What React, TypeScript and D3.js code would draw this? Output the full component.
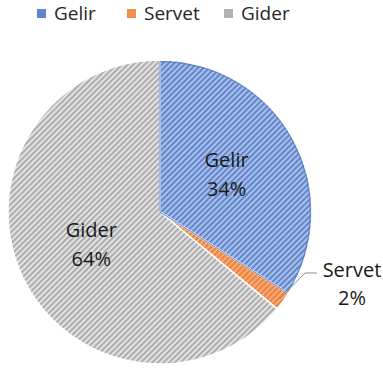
import React from "react";
import * as d3 from "d3";

const categories = ["Gelir", "Servet", "Gider"];
const values = [34, 2, 64];
const labels = ["34%", "2%", "64%"];

const W = 383, H = 371;
const cx = 160, cy = 212, R = 152;
const font = "'Open Sans', 'Noto Sans', sans-serif";
const fs = 20;

const patterns = [
  { id: "pBlue", bg: "#a9c1ea", fg: "#5b80c8", legend: "#4472c4" },
  { id: "pOrange", bg: "#f5ad7c", fg: "#ed7d31", legend: "#ed7d31" },
  { id: "pGray", bg: "#e2e2e2", fg: "#a8a8a8", legend: "#a5a5a5" },
];

export default function App() {
  const pie = d3.pie<number>().sort(null).value((d) => d)(values);
  const arc = d3.arc<d3.PieArcDatum<number>>().innerRadius(0).outerRadius(R);
  const labelArc = d3.arc<d3.PieArcDatum<number>>().innerRadius(R * 0.5).outerRadius(R * 0.5);
  const gelirC = labelArc.centroid(pie[0]);
  const giderC = labelArc.centroid(pie[2]);

  const servetMid = (pie[1].startAngle + pie[1].endAngle) / 2;
  const lx0 = Math.sin(servetMid) * (R - 4);
  const ly0 = -Math.cos(servetMid) * (R - 4);

  const legendItems = [
    { x: 37, text: categories[0], c: patterns[0] },
    { x: 127, text: categories[1], c: patterns[1] },
    { x: 224, text: categories[2], c: patterns[2] },
  ];

  return (
    <svg width={W} height={H} style={{ position: "absolute", left: 0, top: 0, background: "#fff" }}>
      <defs>
        {patterns.map((p) => (
          <pattern key={p.id} id={p.id} patternUnits="userSpaceOnUse" width={4} height={4} patternTransform="rotate(45)">
            <rect width={4} height={4} fill={p.bg} />
            <rect width={1.8} height={4} fill={p.fg} />
          </pattern>
        ))}
      </defs>
      {legendItems.map((l, i) => (
        <g key={i}>
          <rect x={l.x} y={9} width={9} height={9} fill={l.c.legend} opacity={0.85} />
          <text x={l.x + 17} y={20} fontFamily={font} fontSize={19} fill="#262626">{l.text}</text>
        </g>
      ))}
      <g transform={`translate(${cx},${cy})`}>
        {pie.map((d, i) => (
          <path key={i} d={arc(d) || ""} fill={`url(#${patterns[i].id})`} stroke="#fff" strokeWidth={1.5} />
        ))}
        <path d={arc(pie[0]) || ""} fill="none" stroke="#5b80c8" strokeWidth={1} transform="scale(0.99)" />
        <polyline
          points={`${lx0},${ly0} ${305 - cx},${273 - cy} ${317 - cx},${273 - cy}`}
          fill="none"
          stroke="#8c8c8c"
          strokeWidth={1}
        />
        <text textAnchor="middle" fontFamily={font} fontSize={fs} fill="#1a1a1a">
          <tspan x={gelirC[0]} y={gelirC[1] - 8}>{categories[0]}</tspan>
          <tspan x={gelirC[0]} dy={29}>{labels[0]}</tspan>
        </text>
        <text textAnchor="middle" fontFamily={font} fontSize={fs} fill="#1a1a1a">
          <tspan x={giderC[0]} y={giderC[1] - 7}>{categories[2]}</tspan>
          <tspan x={giderC[0]} dy={29}>{labels[2]}</tspan>
        </text>
        <text textAnchor="middle" fontFamily={font} fontSize={fs} fill="#1a1a1a">
          <tspan x={352 - cx} y={277 - cy}>{categories[1]}</tspan>
          <tspan x={352 - cx} dy={28}>{labels[1]}</tspan>
        </text>
      </g>
    </svg>
  );
}
